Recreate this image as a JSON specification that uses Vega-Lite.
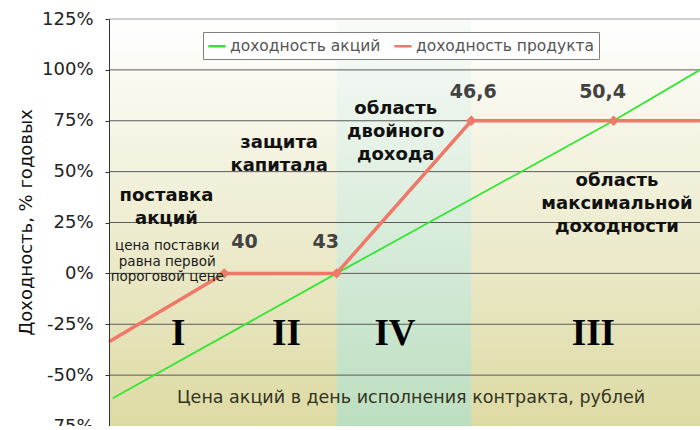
{
  "$schema": "https://vega.github.io/schema/vega-lite/v6.json",
  "width": 591,
  "height": 407,
  "autosize": {"type": "none"},
  "padding": {"left": 109, "top": 19, "right": 0, "bottom": 0},
  "background": "white",
  "config": {"view": {"stroke": null}, "font": "DejaVu Sans"},
  "datasets": {
    "bg": [{"p0": 36.92, "p1": 52.71, "v0": -75, "v1": 125}],
    "zone": [{"p0": 43, "p1": 46.6, "v0": -75, "v1": 125}],
    "grid": [{"v": -50}, {"v": -25}, {"v": 0}, {"v": 25}, {"v": 50}, {"v": 75}, {"v": 100}, {"v": 125}],
    "green": [
      {"series": "доходность акций", "p": 37.02, "v": -61.4},
      {"series": "доходность акций", "p": 43, "v": 0},
      {"series": "доходность акций", "p": 50.4, "v": 75},
      {"series": "доходность акций", "p": 52.71, "v": 100}
    ],
    "red": [
      {"series": "доходность продукта", "p": 36.92, "v": -33.6},
      {"series": "доходность продукта", "p": 40, "v": 0},
      {"series": "доходность продукта", "p": 43, "v": 0},
      {"series": "доходность продукта", "p": 46.6, "v": 75},
      {"series": "доходность продукта", "p": 52.71, "v": 75}
    ],
    "markers": [{"p": 40, "v": 0}, {"p": 43, "v": 0}, {"p": 46.6, "v": 75}, {"p": 50.4, "v": 75}],
    "boldNotes": [
      {"p": 38.455, "v": 37.85, "text": "поставка\nакций"},
      {"p": 41.465, "v": 64.3, "text": "защита\nкапитала"},
      {"p": 44.58, "v": 80.8, "text": "область\nдвойного\nдохода"},
      {"p": 50.49, "v": 45.2, "text": "область\nмаксимальной\nдоходности"}
    ],
    "smallNote": [{"p": 38.476, "v": 13.25, "text": "цена поставки\nравна первой\nпороговой цене"}],
    "numbers": [
      {"p": 40.54, "v": 15.5, "text": "40"},
      {"p": 42.71, "v": 15.5, "text": "43"},
      {"p": 46.65, "v": 88.9, "text": "46,6"},
      {"p": 50.107, "v": 89.3, "text": "50,4"}
    ],
    "roman": [
      {"p": 38.77, "v": -29.8, "text": "I"},
      {"p": 41.66, "v": -29.8, "text": "II"},
      {"p": 44.56, "v": -29.8, "text": "IV"},
      {"p": 49.86, "v": -29.8, "text": "III"}
    ],
    "xTitle": [{"p": 44.99, "v": -61.2, "text": "Цена акций в день исполнения контракта, рублей"}]
  },
  "layer": [
    {
      "data": {"name": "bg"},
      "mark": {"type": "rect", "color": {"gradient": "linear", "x1": 0, "y1": 0, "x2": 0, "y2": 1, "stops": [{"offset": 0, "color": "#FFFFFF"}, {"offset": 1, "color": "#DDDAA3"}]}},
      "encoding": {
        "x": {"field": "p0", "type": "quantitative", "scale": {"domain": [36.92, 52.71], "nice": false, "zero": false},
          "axis": {"labels": false, "ticks": false, "grid": false, "title": null, "domainColor": "#6b6940", "zindex": 1}},
        "x2": {"field": "p1"},
        "y": {"field": "v0", "type": "quantitative", "scale": {"domain": [-75, 125], "nice": false, "zero": false},
          "axis": {"values": [-75, -50, -25, 0, 25, 50, 75, 100, 125], "labelExpr": "datum.value + '%'", "grid": false,
            "tickSize": 4, "tickColor": "#333333", "domainColor": "#333333", "labelFont": "DejaVu Sans", "labelFontSize": 18,
            "labelColor": "#222222", "labelPadding": 12, "labelBound": false, "labelOverlap": false,
            "title": "Доходность, % годовых", "titleFont": "DejaVu Sans", "titleFontSize": 18, "titleFontWeight": "normal",
            "titleColor": "#111111", "titleX": -83, "titleY": 203, "titleAngle": -90, "titleAlign": "center", "titleBaseline": "middle", "zindex": 1}},
        "y2": {"field": "v1"}
      }
    },
    {
      "data": {"name": "zone"},
      "mark": {"type": "rect", "color": {"gradient": "linear", "x1": 0, "y1": 0, "x2": 0, "y2": 1, "stops": [{"offset": 0, "color": "#F8FBF8"}, {"offset": 1, "color": "#BCDEC0"}]}},
      "encoding": {
        "x": {"field": "p0", "type": "quantitative"},
        "x2": {"field": "p1"},
        "y": {"field": "v0", "type": "quantitative"},
        "y2": {"field": "v1"}
      }
    },
    {
      "data": {"name": "grid"},
      "mark": {"type": "rule", "strokeWidth": 1},
      "encoding": {
        "y": {"field": "v", "type": "quantitative"},
        "color": {"condition": {"test": "datum.v === 125", "value": "#a0a0a0"}, "value": "#5a5a5a"}
      }
    },
    {
      "data": {"name": "green"},
      "mark": {"type": "line", "strokeWidth": 1.8},
      "encoding": {
        "x": {"field": "p", "type": "quantitative"},
        "y": {"field": "v", "type": "quantitative"},
        "color": {"field": "series", "type": "nominal",
          "scale": {"domain": ["доходность акций", "доходность продукта"], "range": ["#33E633", "#F07868"]},
          "legend": {"orient": "none", "legendX": 94, "legendY": 13, "direction": "horizontal", "title": null,
            "fillColor": "white", "strokeColor": "#7f7f7f", "padding": 4, "labelFont": "DejaVu Sans", "labelFontSize": 15.5,
            "labelColor": "#555555", "labelLimit": 0, "symbolType": "stroke", "symbolStrokeWidth": 2.5, "symbolSize": 300, "columnPadding": 8, "labelOffset": 3}}
      }
    },
    {
      "data": {"name": "red"},
      "mark": {"type": "line", "strokeWidth": 3.5},
      "encoding": {
        "x": {"field": "p", "type": "quantitative"},
        "y": {"field": "v", "type": "quantitative"},
        "color": {"field": "series", "type": "nominal"}
      }
    },
    {
      "data": {"name": "markers"},
      "mark": {"type": "point", "shape": "diamond", "filled": true, "color": "#F07868", "size": 110, "opacity": 1},
      "encoding": {
        "x": {"field": "p", "type": "quantitative"},
        "y": {"field": "v", "type": "quantitative"}
      }
    },
    {
      "data": {"name": "boldNotes"},
      "mark": {"type": "text", "font": "DejaVu Sans", "fontWeight": "bold", "fontSize": 18, "color": "#111111", "lineBreak": "\n", "lineHeight": 23, "align": "center", "baseline": "middle"},
      "encoding": {
        "x": {"field": "p", "type": "quantitative"},
        "y": {"field": "v", "type": "quantitative"},
        "text": {"field": "text"}
      }
    },
    {
      "data": {"name": "smallNote"},
      "mark": {"type": "text", "font": "DejaVu Sans", "fontSize": 13.5, "color": "#1a1a1a", "lineBreak": "\n", "lineHeight": 15.5, "align": "center", "baseline": "middle"},
      "encoding": {
        "x": {"field": "p", "type": "quantitative"},
        "y": {"field": "v", "type": "quantitative"},
        "text": {"field": "text"}
      }
    },
    {
      "data": {"name": "numbers"},
      "mark": {"type": "text", "font": "DejaVu Sans", "fontWeight": "bold", "fontSize": 19, "color": "#424242", "align": "center", "baseline": "middle"},
      "encoding": {
        "x": {"field": "p", "type": "quantitative"},
        "y": {"field": "v", "type": "quantitative"},
        "text": {"field": "text"}
      }
    },
    {
      "data": {"name": "roman"},
      "mark": {"type": "text", "font": "Liberation Serif", "fontWeight": "bold", "fontSize": 37, "color": "#000000", "align": "center", "baseline": "middle"},
      "encoding": {
        "x": {"field": "p", "type": "quantitative"},
        "y": {"field": "v", "type": "quantitative"},
        "text": {"field": "text"}
      }
    },
    {
      "data": {"name": "xTitle"},
      "mark": {"type": "text", "font": "DejaVu Sans", "fontSize": 17.5, "color": "#333322", "align": "center", "baseline": "middle"},
      "encoding": {
        "x": {"field": "p", "type": "quantitative"},
        "y": {"field": "v", "type": "quantitative"},
        "text": {"field": "text"}
      }
    }
  ]
}
